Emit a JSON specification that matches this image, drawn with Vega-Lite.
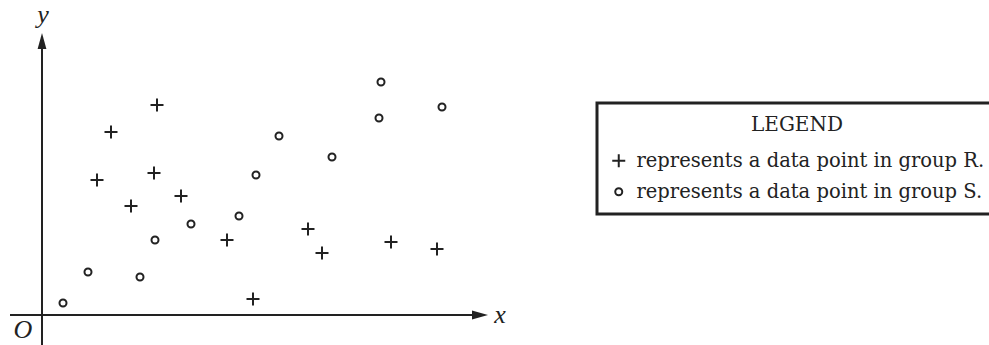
{
  "$schema": "https://vega.github.io/schema/vega-lite/v6.json",
  "width": 989,
  "height": 345,
  "autosize": {"type": "none"},
  "padding": 0,
  "background": "white",
  "config": {
    "view": {"stroke": null},
    "legend": {"strokeWidth": 3}
  },
  "datasets": {
    "points": [
      {"group": "R", "x": 11.5, "y": 21.0},
      {"group": "R", "x": 6.9, "y": 18.3},
      {"group": "R", "x": 11.2, "y": 14.2},
      {"group": "R", "x": 5.5, "y": 13.5},
      {"group": "R", "x": 13.9, "y": 11.9},
      {"group": "R", "x": 8.9, "y": 10.9},
      {"group": "R", "x": 18.5, "y": 7.5},
      {"group": "R", "x": 21.1, "y": 1.6},
      {"group": "R", "x": 26.6, "y": 8.6},
      {"group": "R", "x": 28.0, "y": 6.2},
      {"group": "R", "x": 34.9, "y": 7.3},
      {"group": "R", "x": 39.5, "y": 6.6},
      {"group": "S", "x": 2.1, "y": 1.2},
      {"group": "S", "x": 4.6, "y": 4.3},
      {"group": "S", "x": 9.8, "y": 3.8},
      {"group": "S", "x": 11.3, "y": 7.5},
      {"group": "S", "x": 14.9, "y": 9.1},
      {"group": "S", "x": 19.7, "y": 9.9},
      {"group": "S", "x": 21.4, "y": 14.0},
      {"group": "S", "x": 23.7, "y": 17.9},
      {"group": "S", "x": 29.0, "y": 15.8},
      {"group": "S", "x": 33.7, "y": 19.7},
      {"group": "S", "x": 33.9, "y": 23.3},
      {"group": "S", "x": 40.0, "y": 20.8}
    ],
    "axes": [
      {"x": -3.2, "x2": 43.2, "y": 0, "y2": 0},
      {"x": 0, "x2": 0, "y": -3.5, "y2": 27.0}
    ],
    "arrowX": [{"x": 43.8, "y": 0}],
    "arrowY": [{"x": 0, "y": 27.4}],
    "labels": [
      {"label": "y", "x": 0.1, "y": 29.2},
      {"label": "x", "x": 45.8, "y": -0.75},
      {"label": "O", "x": -1.9, "y": -2.33}
    ]
  },
  "layer": [
    {
      "data": {"name": "axes"},
      "mark": {"type": "rule", "color": "#222", "strokeWidth": 2},
      "encoding": {
        "x": {"field": "x", "type": "quantitative", "scale": {"domain": [-4.2, 94.7], "nice": false, "zero": false}, "axis": null},
        "x2": {"field": "x2"},
        "y": {"field": "y", "type": "quantitative", "scale": {"domain": [-3.0, 31.5], "nice": false, "zero": false}, "axis": null},
        "y2": {"field": "y2"}
      }
    },
    {
      "data": {"name": "arrowX"},
      "mark": {"type": "point", "shape": "M1,0L-1,-0.55L-1,0.55Z", "filled": true, "size": 256, "color": "#222", "opacity": 1},
      "encoding": {
        "x": {"field": "x", "type": "quantitative"},
        "y": {"field": "y", "type": "quantitative"}
      }
    },
    {
      "data": {"name": "arrowY"},
      "mark": {"type": "point", "shape": "M0,-1L0.55,1L-0.55,1Z", "filled": true, "size": 256, "color": "#222", "opacity": 1},
      "encoding": {
        "x": {"field": "x", "type": "quantitative"},
        "y": {"field": "y", "type": "quantitative"}
      }
    },
    {
      "data": {"name": "labels"},
      "mark": {"type": "text", "font": "Liberation Serif", "fontStyle": "italic", "fontSize": 26, "align": "center", "baseline": "alphabetic", "color": "#222"},
      "encoding": {
        "x": {"field": "x", "type": "quantitative"},
        "y": {"field": "y", "type": "quantitative"},
        "text": {"field": "label"}
      }
    },
    {
      "data": {"name": "points"},
      "mark": {"type": "point", "filled": false, "size": 169, "strokeWidth": 2, "color": "#222", "opacity": 1},
      "encoding": {
        "x": {"field": "x", "type": "quantitative"},
        "y": {"field": "y", "type": "quantitative"},
        "shape": {
          "field": "group",
          "type": "nominal",
          "scale": {
            "domain": ["R", "S"],
            "range": ["M-1,0H1M0,-1V1", "M0.54,0A0.54,0.54,0,1,1,-0.54,0A0.54,0.54,0,1,1,0.54,0Z"]
          },
          "legend": {
            "title": "LEGEND",
            "orient": "none",
            "legendX": 597,
            "legendY": 103,
            "direction": "vertical",
            "padding": 12,
            "strokeColor": "#222",
            "fillColor": "white",
            "titleFont": "DejaVu Serif",
            "titleFontSize": 20,
            "titleFontWeight": "normal",
            "titleColor": "#222",
            "titleAnchor": "middle",
            "titleAlign": "center",
            "titlePadding": 16,
            "labelFont": "DejaVu Serif",
            "labelFontSize": 19.5,
            "labelColor": "#222",
            "labelLimit": 600,
            "labelOffset": 8,
            "rowPadding": 9,
            "symbolSize": 169,
            "symbolStrokeWidth": 2,
            "symbolStrokeColor": "#222",
            "symbolFillColor": "transparent",
            "labelExpr": "'represents a data point in group ' + datum.label + '.'"
          }
        }
      }
    }
  ]
}
